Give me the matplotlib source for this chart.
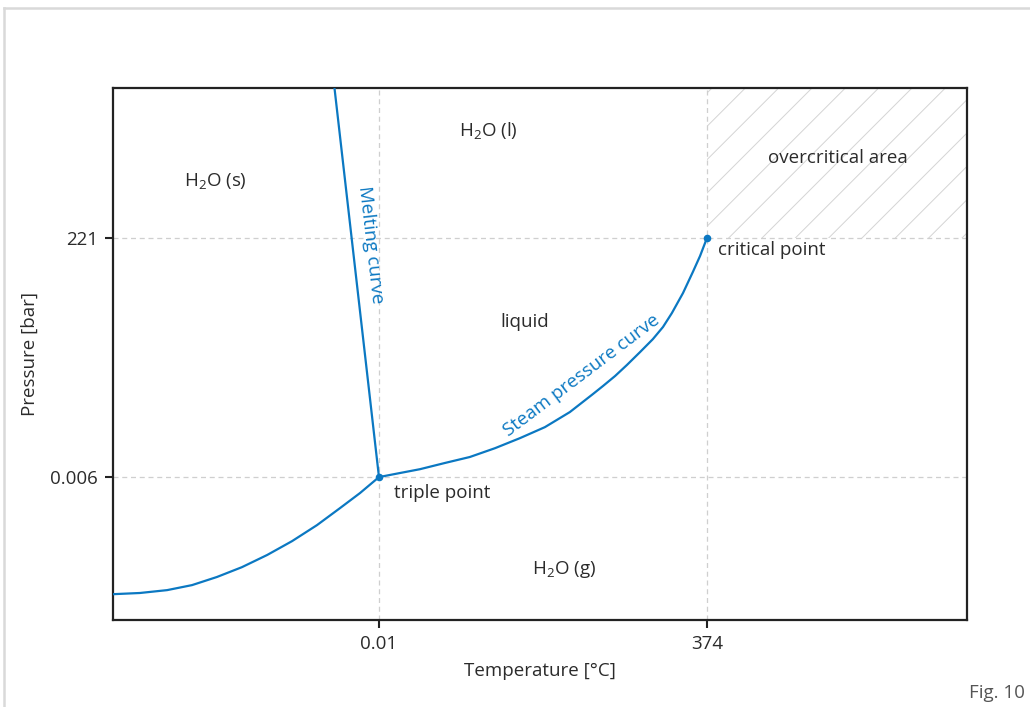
import matplotlib
matplotlib.use('Agg')
import matplotlib.pyplot as plt
from matplotlib.lines import Line2D

# schematic coordinates: triple point at (0, 0), critical point at (1, 1)
sub_x = [-0.811, -0.729, -0.646, -0.570, -0.494, -0.418, -0.341, -0.265, -0.189, -0.119, -0.058, 0.0]
sub_y = [-0.490, -0.485, -0.473, -0.452, -0.418, -0.377, -0.326, -0.268, -0.201, -0.130, -0.067, 0.0]

melt_x = [0.0, -0.140]
melt_y = [0.0, 1.680]

steam_x = [0.0, 0.064, 0.125, 0.201, 0.277, 0.354, 0.430, 0.506, 0.582, 0.652, 0.683,
           0.720, 0.756, 0.796, 0.835, 0.866, 0.893, 0.927, 0.957, 0.979, 1.0]
steam_y = [0.0, 0.017, 0.033, 0.059, 0.084, 0.121, 0.163, 0.209, 0.272, 0.347, 0.381,
           0.423, 0.469, 0.523, 0.577, 0.628, 0.686, 0.770, 0.858, 0.925, 1.0]

points_x = [0.0, 1.0]
points_y = [0.0, 1.0]

x_ticks = [0.0, 1.0]
x_labels = ['0.01', '374']
y_ticks = [0.0, 1.0]
y_labels = ['0.006', '221']

BLUE = '#0b78c2'
TXT = '#2b2b2b'
GRID = '#cfcfcf'

plt.rcParams['font.family'] = ['Open Sans', 'DejaVu Sans']
plt.rcParams['mathtext.fontset'] = 'custom'
plt.rcParams['mathtext.rm'] = 'Open Sans'
plt.rcParams['hatch.linewidth'] = 0.7

fig = plt.figure(figsize=(10.3, 7.07), dpi=100)
ax = fig.add_axes([113 / 1030, 1 - 620 / 707, 854 / 1030, 532 / 707])
xmin, xmax = -0.811, 1.793
ymin, ymax = -0.598, 1.628
ax.set_xlim(xmin, xmax)
ax.set_ylim(ymin, ymax)

# outer light frame (top and left edges)
fig.add_artist(Line2D([4 / 1030, 1.0], [1 - 8 / 707, 1 - 8 / 707], color='#d9d9d9', lw=1.8,
                      transform=fig.transFigure))
fig.add_artist(Line2D([4 / 1030, 4 / 1030], [0.0, 1 - 8 / 707], color='#d9d9d9', lw=1.8,
                      transform=fig.transFigure))

# overcritical hatched area
ax.fill_between([1.0, xmax], 1.0, ymax, facecolor='none', edgecolor='#d4d4d4',
                hatch='/', linewidth=0, zorder=0)

# dashed guide lines
for xt in x_ticks:
    ax.axvline(xt, color=GRID, lw=0.9, dashes=(4, 3), zorder=1)
for yt in y_ticks:
    ax.axhline(yt, color=GRID, lw=0.9, dashes=(4, 3), zorder=1)

ax.plot(sub_x, sub_y, color=BLUE, lw=1.6, zorder=3, solid_joinstyle='round')
ax.plot(melt_x, melt_y, color=BLUE, lw=1.6, zorder=3)
ax.plot(steam_x, steam_y, color=BLUE, lw=1.6, zorder=3, solid_joinstyle='round')
ax.scatter(points_x, points_y, s=30, color=BLUE, zorder=4, linewidths=0)

fs = 13.5
ax.set_xticks(x_ticks)
ax.set_xticklabels(x_labels)
ax.set_yticks(y_ticks)
ax.set_yticklabels(y_labels)
ax.tick_params(direction='out', length=6, width=1.5, color='#222222', labelsize=fs,
               labelcolor=TXT, pad=5)
for s in ax.spines.values():
    s.set_linewidth(1.6)
    s.set_color('#222222')

ax.set_xlabel('Temperature [°C]', fontsize=fs, color=TXT, labelpad=6)
ax.set_ylabel('Pressure [bar]', fontsize=fs, color=TXT, labelpad=8)

ax.text(-0.5, 1.234, r'H$_\mathrm{2}$O (s)', fontsize=fs, color=TXT, ha='center', va='center')
ax.text(0.332, 1.448, r'H$_\mathrm{2}$O (l)', fontsize=fs, color=TXT, ha='center', va='center')
ax.text(0.564, -0.385, r'H$_\mathrm{2}$O (g)', fontsize=fs, color=TXT, ha='center', va='center')
ax.text(1.399, 1.335, 'overcritical area', fontsize=fs, color=TXT, ha='center', va='center')
ax.text(1.034, 0.950, 'critical point', fontsize=fs, color=TXT, ha='left', va='center')
ax.text(0.445, 0.649, 'liquid', fontsize=fs, color=TXT, ha='center', va='center')
ax.text(0.046, -0.067, 'triple point', fontsize=fs, color=TXT, ha='left', va='center')
ax.text(-0.024, 0.971, 'Melting curve', fontsize=fs, color=BLUE, ha='center', va='center',
        rotation=-83.5, rotation_mode='anchor')
ax.text(0.619, 0.427, 'Steam pressure curve', fontsize=fs, color=BLUE, ha='center', va='center',
        rotation=37, rotation_mode='anchor')

fig.text(1025 / 1030, 1 - 693 / 707, 'Fig. 10', fontsize=fs, color='#555555', ha='right', va='center')

fig.savefig('out.png', dpi=100)
